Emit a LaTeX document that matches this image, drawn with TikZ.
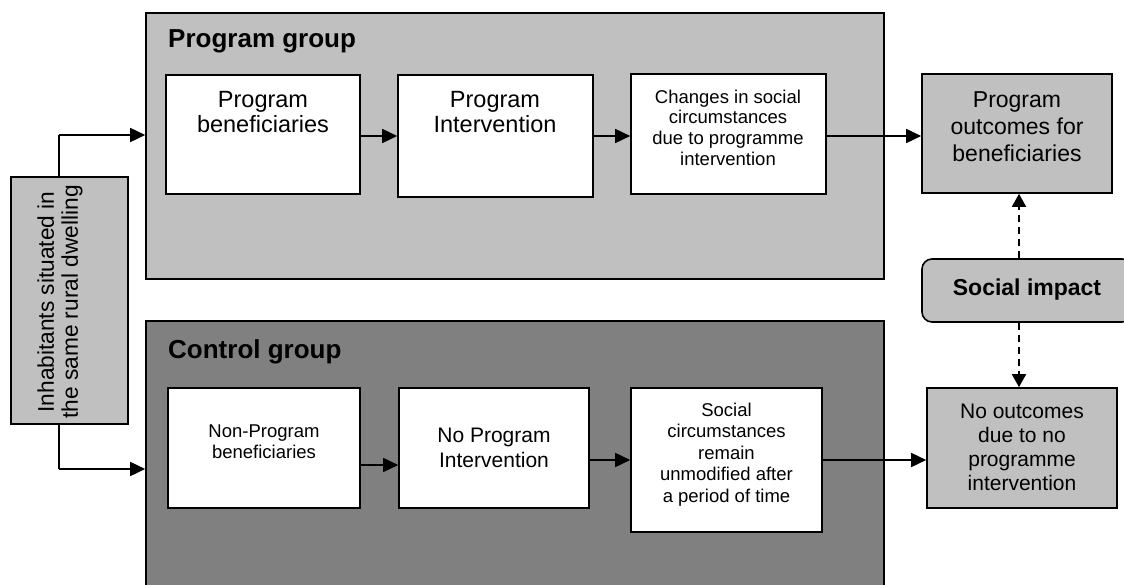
\documentclass[tikz,border=0pt]{standalone}
\usepackage{fontspec}
\setmainfont{Liberation Sans}
\usetikzlibrary{arrows.meta,calc}
\definecolor{lightg}{HTML}{C0C0C0}
\definecolor{darkg}{HTML}{808080}
\newcommand{\fs}[2]{\fontsize{#1}{#2}\selectfont}
\tikzset{
  group/.style={draw=black, line width=1.6pt, rectangle, inner sep=0pt},
  whitebox/.style={draw=black, line width=1.6pt, fill=white, rectangle, inner sep=0pt},
  greybox/.style={draw=black, line width=1.6pt, fill=lightg, rectangle, inner sep=0pt},
  txt/.style={anchor=north, inner sep=0pt, align=center},
  arr/.style={line width=1.6pt, -{Triangle[length=15pt,width=14pt]}},
  darr/.style={line width=1.6pt, dash pattern=on 7pt off 5pt, -{Triangle[length=13pt,width=14pt]}},
}
\begin{document}
\begin{tikzpicture}[x=1pt,y=-1pt]
\useasboundingbox (0,0) rectangle (1124,585);
\clip (0,0) rectangle (1124,585);
% groups
\node[group, fill=lightg, minimum width=738pt, minimum height=266pt] (pg) at (515,146) {};
\node[group, fill=darkg, minimum width=738pt, minimum height=299pt] (cg) at (515,470.5) {};
\node[anchor=base west, inner sep=0pt, font=\fs{26}{30}\bfseries] (pgt) at (168,48) {Program group};
\node[anchor=base west, inner sep=0pt, font=\fs{26}{30}\bfseries] (cgt) at (168,358) {Control group};
% left box
\node[greybox, minimum width=117pt, minimum height=247pt] (lb) at (69.5,300.5) {};
\node[rotate=90, inner sep=0pt, align=center, font=\fs{22.7}{24}] (lbt) at (60,302) {Inhabitants situated in\\the same rural dwelling};
% program row
\node[whitebox, minimum width=194pt, minimum height=119pt] (pb) at (263,134.5) {};
\node[txt, font=\fs{23.5}{25}] (pbt) at (263,91) {Program\\beneficiaries};
\node[whitebox, minimum width=195pt, minimum height=122pt] (pi) at (495.5,136) {};
\node[txt, font=\fs{23.5}{25}] (pit) at (495,91) {Program\\Intervention};
\node[whitebox, minimum width=195pt, minimum height=120pt] (ch) at (728.5,134) {};
\node[txt, font=\fs{18.5}{20.7}] (cht) at (728,89.5) {Changes in social\\circumstances\\due to programme\\intervention};
\node[greybox, minimum width=190pt, minimum height=119pt] (po) at (1017,133.5) {};
\node[txt, font=\fs{23}{27}] (pot) at (1017,91.5) {Program\\outcomes for\\beneficiaries};
% social impact
\node[greybox, rounded corners=10pt, minimum width=210pt, minimum height=63pt] (si) at (1027,290.5) {};
\node[anchor=base, inner sep=0pt, font=\fs{23}{27}\bfseries] (sit) at (1027,295) {Social impact};
% control row
\node[whitebox, minimum width=192pt, minimum height=120pt] (npb) at (264,448) {};
\node[txt, font=\fs{18.5}{21}] (npbt) at (264,424.7) {Non-Program\\beneficiaries};
\node[whitebox, minimum width=190pt, minimum height=120pt] (npi) at (494,448) {};
\node[txt, font=\fs{21}{25}] (npit) at (494,428) {No Program\\Intervention};
\node[whitebox, minimum width=191pt, minimum height=144pt] (sc) at (726.5,460) {};
\node[txt, font=\fs{18.5}{21.5}] (sct) at (726.5,402.5) {Social\\circumstances\\remain\\unmodified after\\a period of time};
\node[greybox, minimum width=190pt, minimum height=120pt] (no) at (1022,448) {};
\node[txt, font=\fs{21}{24}] (not) at (1022,404) {No outcomes\\due to no\\programme\\intervention};
% connectors
\coordinate (lbn) at (59,177);
\coordinate (lbs) at (59,424);
\draw[line width=1.6pt] (lbn) -- (59,135);
\draw[arr] (59,135) -- (pg.west |- 0,135);
\draw[line width=1.6pt] (lbs) -- (59,469);
\draw[arr] (59,469) -- (cg.west |- 0,469);
\draw[arr] (pb.east |- 0,136) -- (pi.west |- 0,136);
\draw[arr] (pi.east |- 0,136) -- (ch.west |- 0,136);
\draw[arr] (ch.east |- 0,136) -- (po.west |- 0,136);
\draw[arr] ([yshift=-17pt]npb.east) -- ([yshift=-17pt]npi.west);
\draw[arr] (npi.east |- sc.west) -- (sc.west);
\draw[arr] (sc.east) -- (no.west |- sc.east);
\draw[darr] (si.north -| 1019,0) -- (po.south -| 1019,0);
\draw[darr] (si.south -| 1019,0) -- (no.north -| 1019,0);
\end{tikzpicture}
\end{document}
